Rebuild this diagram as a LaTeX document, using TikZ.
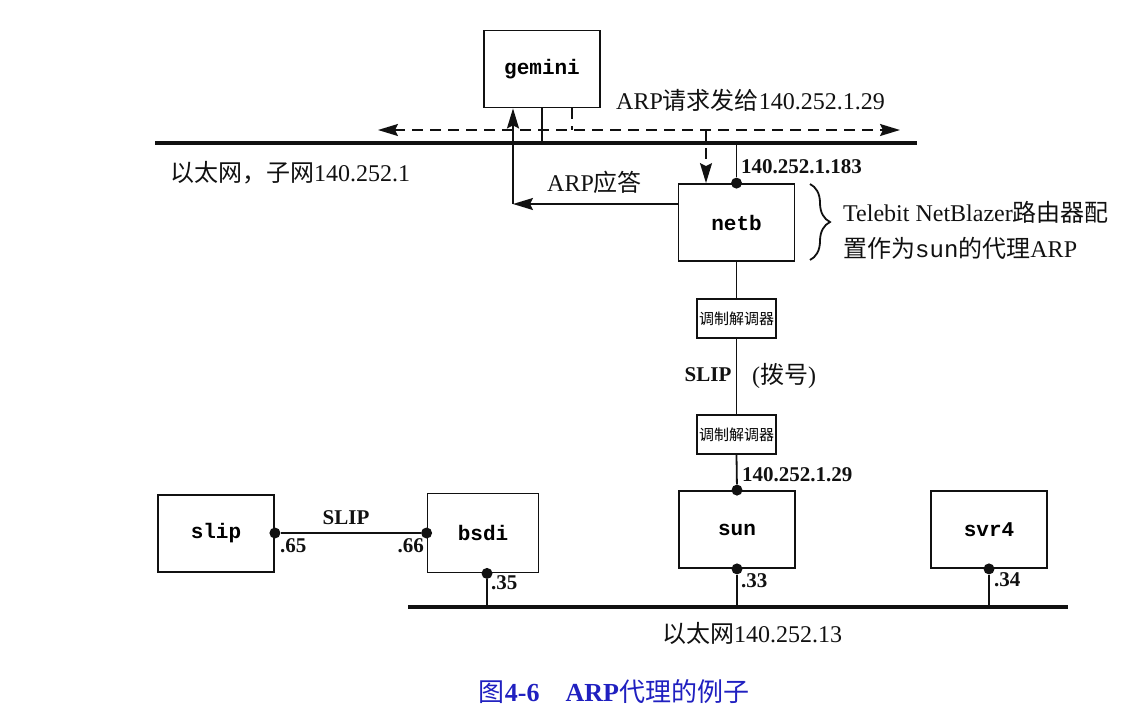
\documentclass[tikz,border=0pt]{standalone}
\usepackage{fontspec}
\setmainfont{Liberation Serif}
\setmonofont{Liberation Mono}
\newfontfamily\cjk{Noto Sans CJK SC}
\usetikzlibrary{arrows.meta,decorations.pathreplacing}
\definecolor{ink}{HTML}{111111}
\definecolor{capblue}{HTML}{2020C0}
\newcommand{\zh}[1]{{\cjk #1}}

\begin{document}
\begin{tikzpicture}[x=1pt, y=-1pt, font=\fontsize{24}{28}\selectfont, >={Stealth[length=20pt,width=12pt,inset=3pt]},
    host/.style={draw=ink, line width=1.8pt, minimum width=116pt, minimum height=77pt, font=\fontsize{21}{24}\selectfont\ttfamily\bfseries},
    modem/.style={draw=ink, line width=1.8pt, minimum width=79pt, minimum height=39pt, inner sep=0pt, font=\fontsize{15}{18}\selectfont\cjk},
    wire/.style={ink, line width=1.8pt},
    dashpat/.style={dash pattern=on 11pt off 7pt},
    ether/.style={ink, line width=4.5pt},
    dot/.style={circle, fill=ink, inner sep=0pt, minimum size=11pt},
    ip/.style={font=\fontsize{21}{24}\selectfont\bfseries, inner sep=0pt, text=ink},
    txt/.style={inner sep=0pt, text=ink}]
    \useasboundingbox (0,0) rectangle (1127,713);
    % The two Ethernets.
    \coordinate (etopL) at (155,143);
    \coordinate (etopR) at (917,143);
    \coordinate (ebotL) at (408,607);
    \coordinate (ebotR) at (1068,607);
    \draw[ether] (etopL) -- (etopR);
    \draw[ether] (ebotL) -- (ebotR);
    \node[txt, anchor=west] (etoplbl) at (170,173) {\zh{以太网，子网}140.252.1};
    \node[txt, anchor=west] (ebotlbl) at (662,633) {\zh{以太网}140.252.13};
    % Hosts and modems.
    \node[host] (gemini) at (542,69) {gemini};
    \node[host] (netb) at (736.5,222.5) {netb};
    \node[modem] (modemA) at (736.5,318.5) {调制解调器};
    \node[modem] (modemB) at (736.5,434.5) {调制解调器};
    \node[host] (sun) at (737,529.5) {sun};
    \node[host] (svr4) at (989,529.5) {svr4};
    \node[host, minimum width=111pt, minimum height=79pt] (bsdi) at (483,533) {bsdi};
    \node[host] (slip) at (216,533.5) {slip};
    % Interface dots.
    \node[dot] (dnetb) at (netb.north) {};
    \node[dot] (dsunN) at (sun.north) {};
    \node[dot] (dsunS) at (sun.south) {};
    \node[dot] (dsvr) at (svr4.south) {};
    \node[dot] (dbsdiS) at ([xshift=4pt]bsdi.south) {};
    \node[dot] (dbsdiW) at (bsdi.west) {};
    \node[dot] (dslip) at (slip.east |- bsdi.west) {};
    % Links.
    \draw[wire] (gemini.south) -- (gemini.south |- etopL);
    \draw[wire] (dnetb) -- (dnetb |- etopL);
    \draw[wire] (netb.south) -- (modemA.north);
    \draw[wire] (modemA.south) -- (modemB.north);
    \draw[wire] (modemB.south) -- (dsunN);
    \draw[wire] (dsunS) -- (dsunS |- ebotL);
    \draw[wire] (dsvr) -- (dsvr |- ebotL);
    \draw[wire] (dbsdiS) -- (dbsdiS |- ebotL);
    \draw[wire] (dslip) -- (dbsdiW);
    % ARP request, broadcast.
    \coordinate (reqL) at (378,130);
    \coordinate (reqR) at (900,130);
    \coordinate (reqN) at (706,130);
    \draw[wire, dashpat, <->] (reqL) -- (reqR);
    \draw[wire, dashpat] ([xshift=30pt]gemini.south) -- ([xshift=30pt]gemini.south |- reqL);
    \draw[wire, dashpat, ->] (reqN) -- (reqN |- netb.north);
    \node[txt, anchor=west] (reqlbl) at (616,100) {ARP\zh{请求发给}140.252.1.29};
    % ARP reply.
    \coordinate (rep) at (513,204);
    \draw[wire, ->] (netb.west |- rep) -- (rep);
    \draw[wire, ->] (rep) -- (rep |- gemini.south);
    \node[txt, anchor=west] (replbl) at (547,182) {ARP\zh{应答}};
    % Addresses.
    \node[ip, anchor=west] (ipnetb) at (741,167) {140.252.1.183};
    \node[ip, anchor=west] (ipsun) at (742,475) {140.252.1.29};
    \node[ip, anchor=west] (ip33) at (741,581) {.33};
    \node[ip, anchor=west] (ip34) at (994,580) {.34};
    \node[ip, anchor=west] (ip35) at (491,583) {.35};
    \node[ip, anchor=west] (ip65) at (280,546) {.65};
    \node[ip, anchor=east] (ip66) at (424,546) {.66};
    \node[ip] (slipA) at (346,518) {SLIP};
    \node[ip] (slipB) at (708,375) {SLIP};
    \node[txt] (dial) at (784,376) {(\zh{拨号})};
    % The proxy note.
    \draw[wire, decorate, decoration={brace, amplitude=20pt}] (810,184) -- (810,260);
    \node[txt, anchor=west] (noteA) at (843,212) {Telebit NetBlazer\zh{路由器配}};
    \node[txt, anchor=west] (noteB) at (843,248) {\zh{置作为}\texttt{sun}\zh{的代理}ARP};
    % Caption.
    \node[txt, text=capblue, font=\fontsize{26}{30}\selectfont] (cap) at (614,692) {\zh{图}\textbf{4-6}\quad \textbf{ARP}\zh{代理的例子}};
  \end{tikzpicture}
\end{document}
